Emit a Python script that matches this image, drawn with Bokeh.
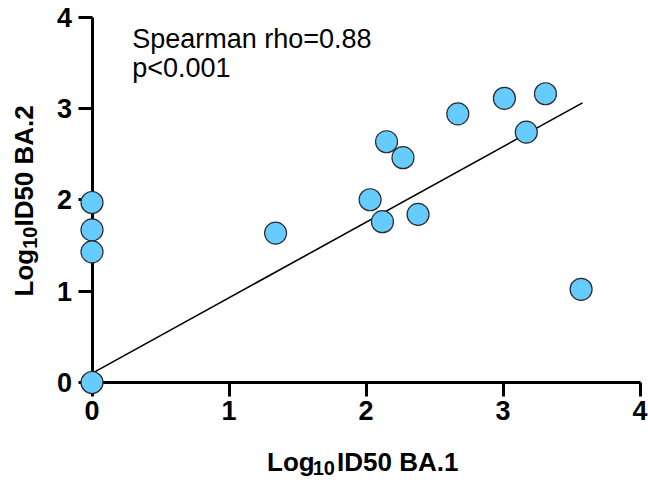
import math
from bokeh.plotting import figure
from bokeh.models import Range1d, FixedTicker, Label
from bokeh.embed import file_html
from bokeh.resources import INLINE

# ---- data ----
ba1 = [0.0, 0.0, 0.0, 0.0, 1.34, 2.03, 2.12, 2.15, 2.27, 2.38, 2.67, 3.01, 3.17, 3.31, 3.57]
ba2 = [0.0, 1.97, 1.67, 1.43, 1.635, 2.00, 1.76, 2.635, 2.46, 1.84, 2.94, 3.11, 2.74, 3.16, 1.02]
fit_x = [0.0, 3.58]
fit_y = [0.10, 3.06]
ticks = [0, 1, 2, 3, 4]
stat_lines = ["Spearman rho=0.88", "p<0.001"]

FONT = "Liberation Sans"

p = figure(width=648, height=480,
           x_range=Range1d(-0.6679, 4.062), y_range=Range1d(-1.0725, 4.1806),
           output_backend="svg", toolbar_location=None,
           min_border_left=0, min_border_right=0,
           min_border_top=0, min_border_bottom=0)
p.grid.visible = False
p.outline_line_color = None
p.background_fill_color = "white"
p.border_fill_color = "white"

for ax in (p.xaxis[0], p.yaxis[0]):
    ax.fixed_location = 0
    ax.bounds = (0, 4)
    ax.ticker = FixedTicker(ticks=ticks)
    ax.axis_line_width = 3
    ax.axis_line_color = "black"
    ax.major_tick_line_width = 3
    ax.major_tick_line_color = "black"
    ax.major_tick_out = 14
    ax.major_tick_in = 0
    ax.minor_tick_line_color = None
    ax.major_label_text_font = FONT
    ax.major_label_text_font_size = "27px"
    ax.major_label_text_font_style = "bold"
    ax.major_label_text_color = "black"
    ax.axis_label = None
p.xaxis[0].major_label_standoff = 4
p.yaxis[0].major_label_standoff = 6

# regression line
p.line(fit_x, fit_y, line_color="black", line_width=1.6)

# points
p.scatter(ba1, ba2, size=22, fill_color="#66CCFF", line_color="#2b2b2b",
          line_width=1.2, level="overlay")

# statistics text
p.add_layout(Label(x=0.2934, y=3.757, text=stat_lines[0], text_font=FONT,
                   text_font_size="27px", text_color="black",
                   text_baseline="alphabetic", text_align="left"))
p.add_layout(Label(x=0.2934, y=3.44, text=stat_lines[1], text_font=FONT,
                   text_font_size="27px", text_color="black",
                   text_baseline="alphabetic", text_align="left"))

# axis titles with subscript
def title_part(x, y, text, size, angle=0.0):
    p.add_layout(Label(x=x, y=y, text=text, text_font=FONT,
                       text_font_size=size, text_font_style="bold",
                       text_color="black", text_baseline="alphabetic",
                       text_align="left", angle=angle))

# x title
title_part(1.2774, -0.8667, "Log", "26px")
title_part(1.6106, -0.9357, "10", "20px")
title_part(1.7887, -0.8667, "ID50 BA.1", "26px")
# y title (rotated)
a = math.pi / 2
title_part(-0.4978, 0.9412, "Log", "26px", a)
title_part(-0.4504, 1.4632, "10", "20px", a)
title_part(-0.4978, 1.7062, "ID50 BA.2", "26px", a)

open("out.html", "w").write(file_html(p, INLINE))
